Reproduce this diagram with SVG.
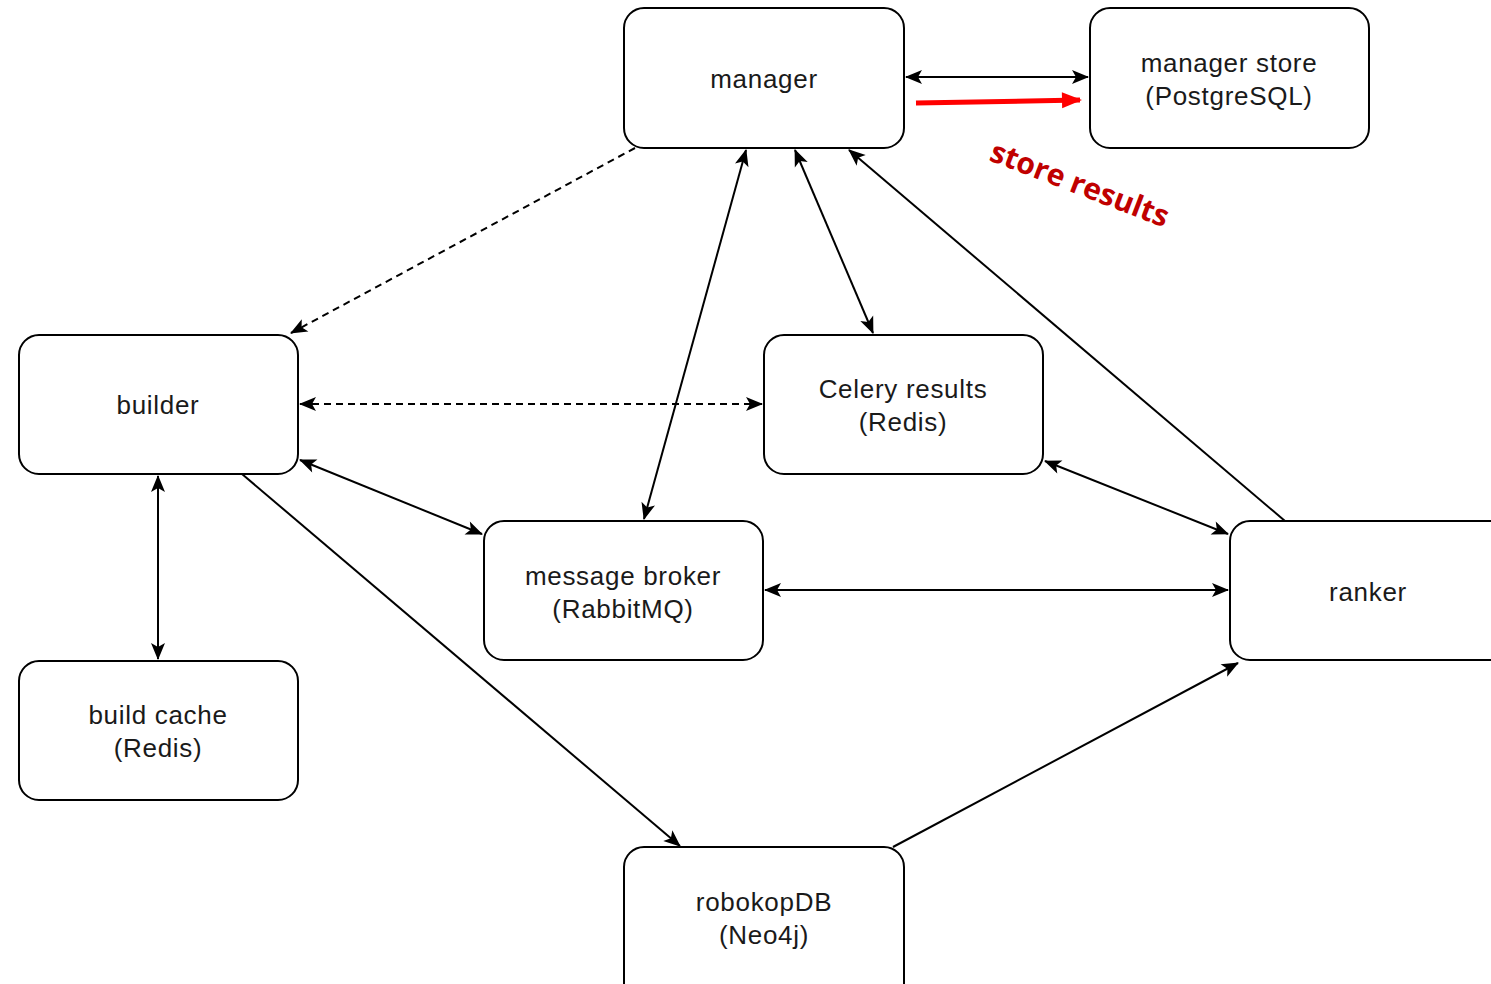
<svg xmlns="http://www.w3.org/2000/svg" width="1491" height="984" viewBox="0 0 1491 984">
<style>
.box{fill:#fff;stroke:#000;stroke-width:2}
.lbl{font-family:"Liberation Sans",Arial,sans-serif;font-size:26px;letter-spacing:0.7px;fill:#1a1a1a;text-anchor:middle}
.c{fill:none;stroke:#000;stroke-width:2}
.d{stroke-dasharray:7 5}
</style>
<defs>
<marker id="ah" markerUnits="userSpaceOnUse" markerWidth="20" markerHeight="20" viewBox="0 0 20 20" refX="17" refY="10" orient="auto-start-reverse">
<path d="M1,3 L18,10 L1,17 L5,10 Z" fill="#000"/>
</marker>
<marker id="ahr" markerUnits="userSpaceOnUse" markerWidth="24" markerHeight="24" viewBox="0 0 24 24" refX="20" refY="12" orient="auto">
<path d="M2,4 L22,12 L2,20 Z" fill="#f00"/>
</marker>
</defs>
<rect width="1491" height="984" fill="#fff"/>
<g id="connectors">
<line class="c" x1="906" y1="77" x2="1088" y2="77" marker-start="url(#ah)" marker-end="url(#ah)"/>
<line x1="916" y1="103" x2="1080" y2="100" stroke="#f00" stroke-width="5" marker-end="url(#ahr)"/>
<line class="c d" x1="635" y1="148" x2="291" y2="333" marker-end="url(#ah)"/>
<line class="c d" x1="300" y1="404" x2="762" y2="404" marker-start="url(#ah)" marker-end="url(#ah)"/>
<line class="c" x1="746" y1="150" x2="644" y2="519" marker-start="url(#ah)" marker-end="url(#ah)"/>
<line class="c" x1="795" y1="150" x2="873" y2="333" marker-start="url(#ah)" marker-end="url(#ah)"/>
<line class="c" x1="1285" y1="521" x2="849" y2="150" marker-end="url(#ah)"/>
<line class="c" x1="1045" y1="461" x2="1228" y2="534" marker-start="url(#ah)" marker-end="url(#ah)"/>
<line class="c" x1="300" y1="460" x2="482" y2="534" marker-start="url(#ah)" marker-end="url(#ah)"/>
<line class="c" x1="765" y1="590" x2="1228" y2="590" marker-start="url(#ah)" marker-end="url(#ah)"/>
<line class="c" x1="158" y1="476" x2="158" y2="659" marker-start="url(#ah)" marker-end="url(#ah)"/>
<line class="c" x1="242" y1="474" x2="680" y2="846" marker-end="url(#ah)"/>
<line class="c" x1="893" y1="847" x2="1238" y2="663" marker-end="url(#ah)"/>
</g>
<g id="manager"><rect class="box" x="624" y="8" width="280" height="140" rx="20"/><text class="lbl" x="764" y="88">manager</text></g>
<g id="manager-store"><rect class="box" x="1090" y="8" width="279" height="140" rx="20"/><text class="lbl" x="1229" y="72">manager store</text><text class="lbl" x="1229" y="105">(PostgreSQL)</text></g>
<g id="builder"><rect class="box" x="19" y="335" width="279" height="139" rx="20"/><text class="lbl" x="158" y="414">builder</text></g>
<g id="celery"><rect class="box" x="764" y="335" width="279" height="139" rx="20"/><text class="lbl" x="903" y="398">Celery results</text><text class="lbl" x="903" y="431">(Redis)</text></g>
<g id="broker"><rect class="box" x="484" y="521" width="279" height="139" rx="20"/><text class="lbl" x="623" y="585">message broker</text><text class="lbl" x="623" y="618">(RabbitMQ)</text></g>
<g id="ranker"><rect class="box" x="1230" y="521" width="290" height="139" rx="20"/><text class="lbl" x="1368" y="601">ranker</text></g>
<g id="build-cache"><rect class="box" x="19" y="661" width="279" height="139" rx="20"/><text class="lbl" x="158" y="724">build cache</text><text class="lbl" x="158" y="757">(Redis)</text></g>
<g id="robokopdb"><rect class="box" x="624" y="847" width="280" height="160" rx="20"/><text class="lbl" x="764" y="911">robokopDB</text><text class="lbl" x="764" y="944">(Neo4j)</text></g>
<g id="store-results-label"><text x="988" y="160" transform="rotate(21 988 160)" font-family="'Open Sans','Noto Sans',sans-serif" font-weight="bold" font-size="30" fill="#c00000">store results</text></g>
</svg>
